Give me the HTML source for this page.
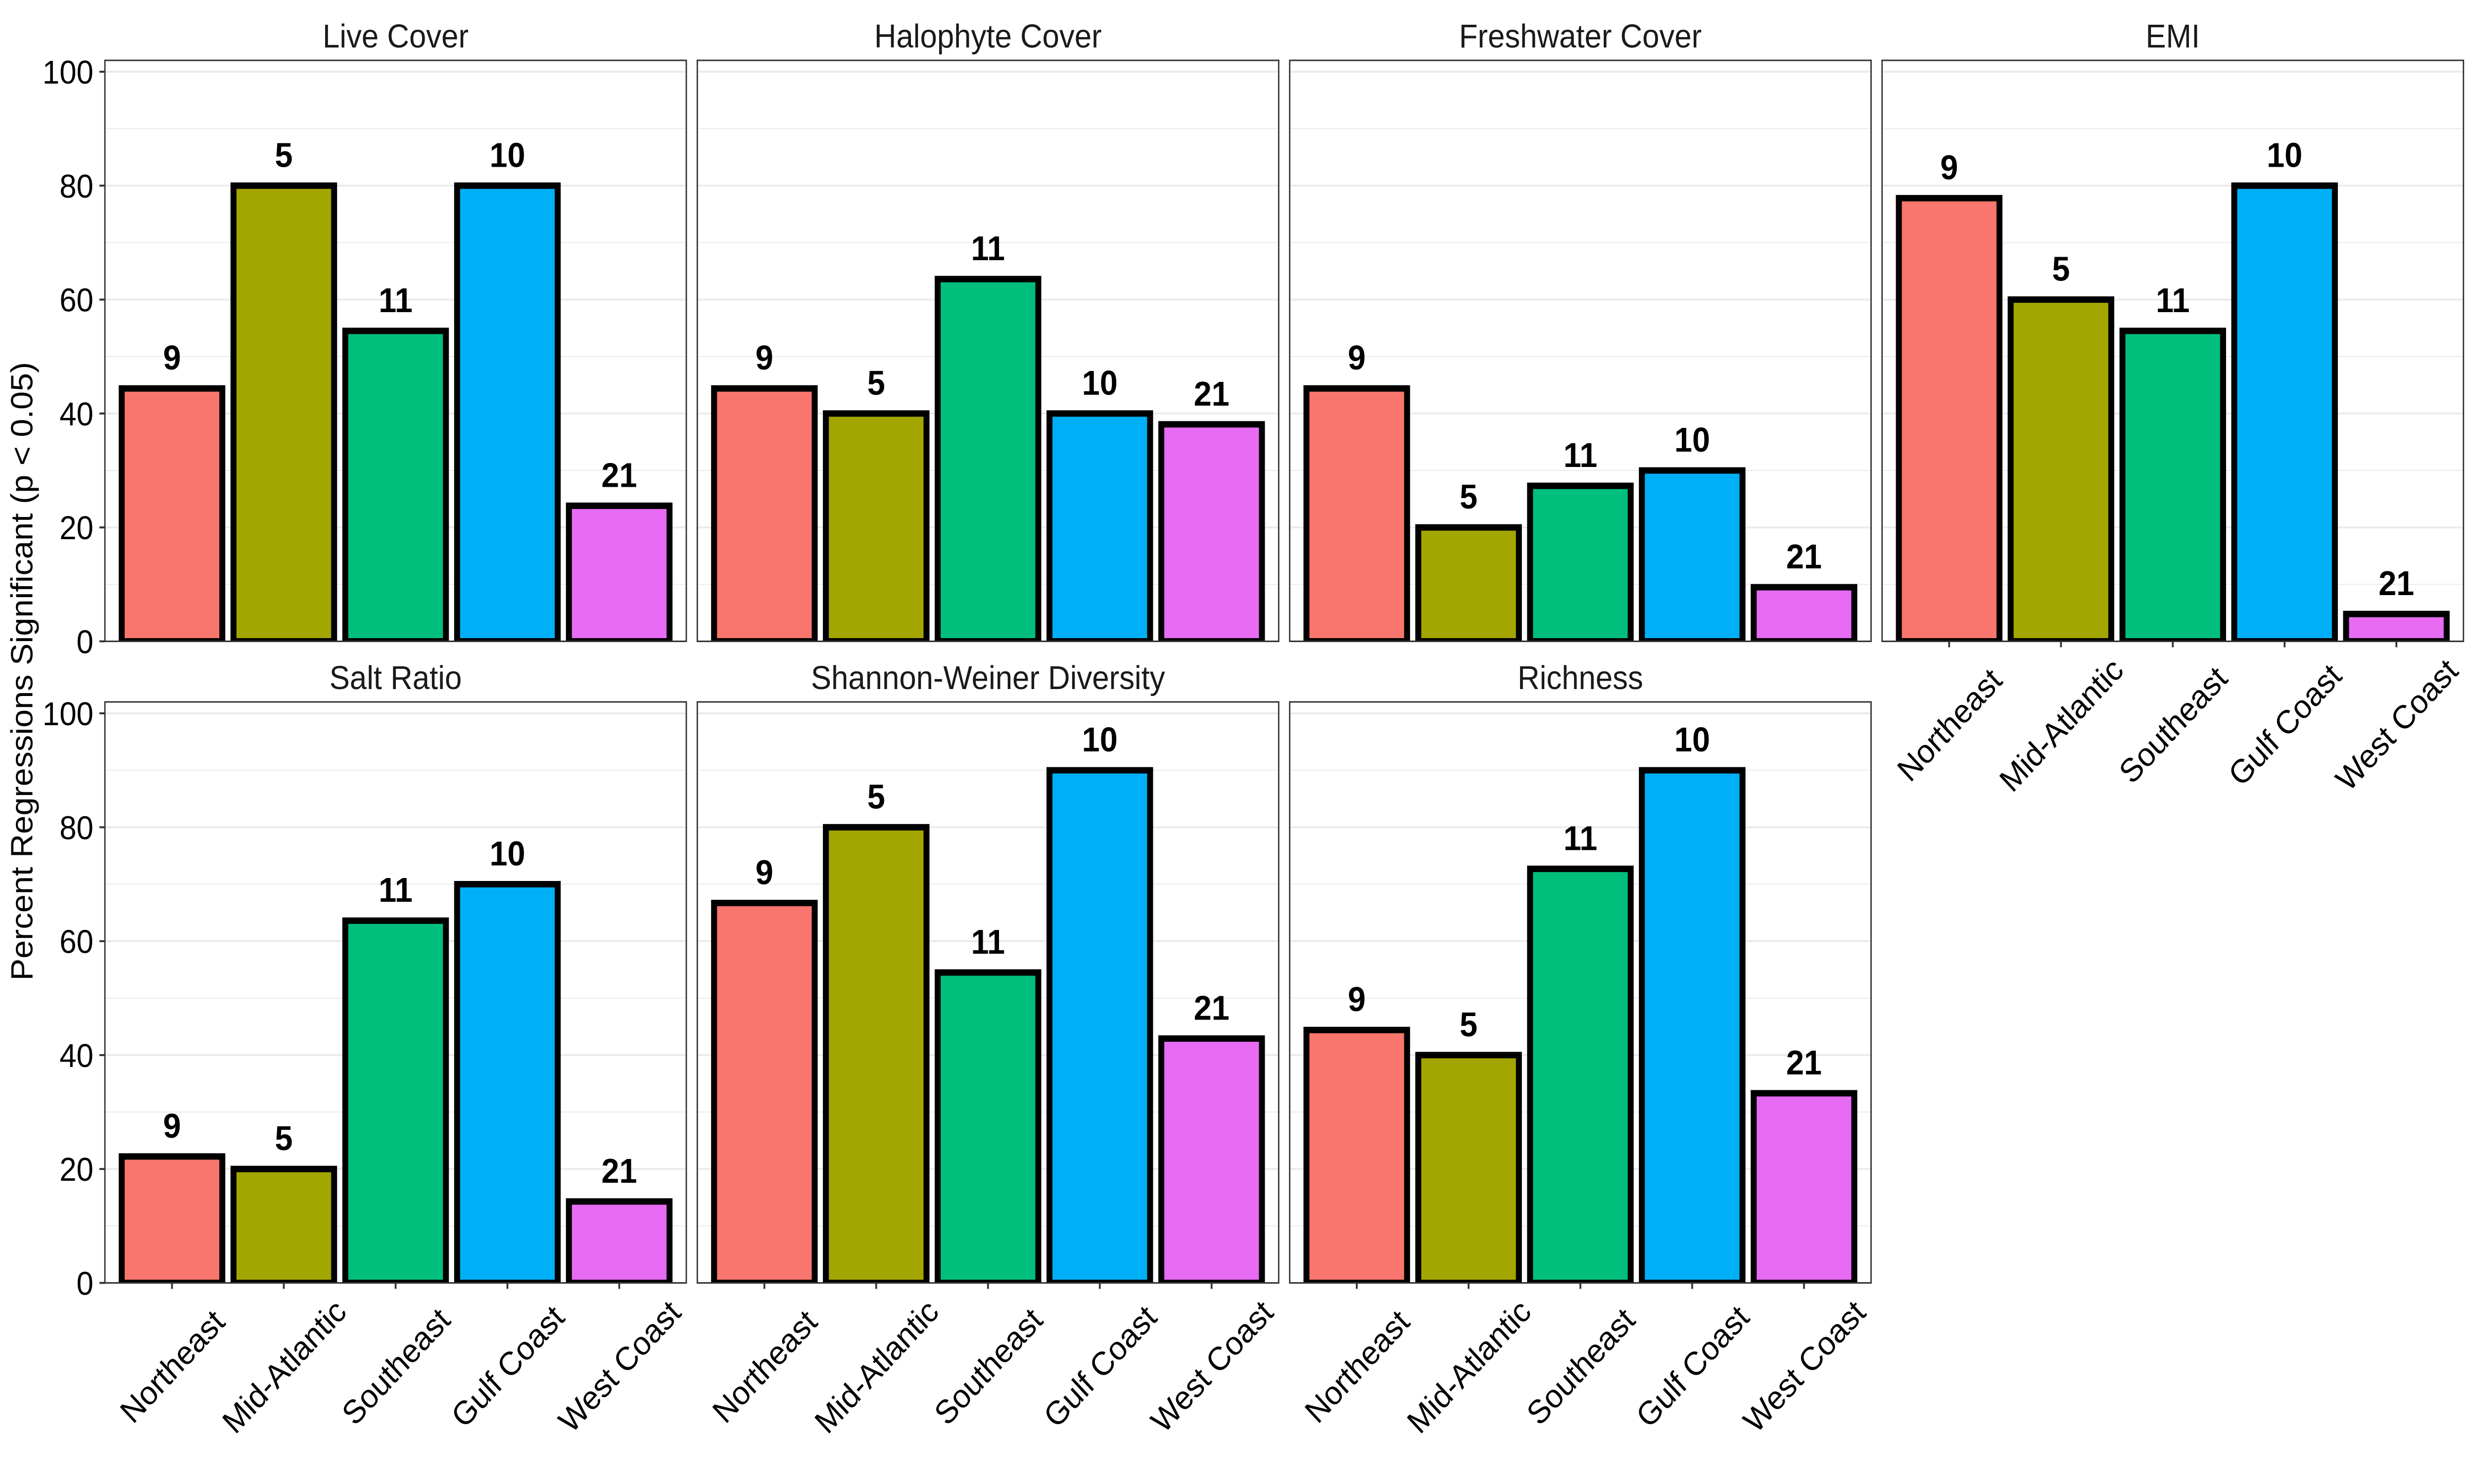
<!DOCTYPE html>
<html lang="en">
<head>
<meta charset="utf-8">
<title>Percent Regressions Significant by Region</title>
<style>
  html, body { margin: 0; padding: 0; background: #ffffff; width: 100%; height: 100%; overflow: hidden; }
  svg { display: block; width: 100vw; height: 100vh; font-family: "Liberation Sans", Arial, sans-serif; }
</style>
</head>
<body>
<svg id="chart" xmlns="http://www.w3.org/2000/svg" viewBox="0 0 5400 3000" preserveAspectRatio="none">
  <rect x="0" y="0" width="5400" height="3000" fill="#ffffff"/>
  <text transform="translate(71,1357) rotate(-90)" text-anchor="middle" font-size="66.67" fill="#000000">Percent Regressions Significant (p &lt; 0.05)</text>
  <g id="panels"></g>
</svg>
<script>
// ---- Data ----
const categories = ['Northeast', 'Mid-Atlantic', 'Southeast', 'Gulf Coast', 'West Coast'];
const sampleSizes = [9, 5, 11, 10, 21];
const panelTitles = ['Live Cover', 'Halophyte Cover', 'Freshwater Cover', 'EMI', 'Salt Ratio', 'Shannon-Weiner Diversity', 'Richness'];
const liveCover = [44.4, 80, 54.5, 80, 23.8];
const halophyteCover = [44.4, 40, 63.6, 40, 38.1];
const freshwaterCover = [44.4, 20, 27.3, 30, 9.5];
const emi = [77.8, 60, 54.5, 80, 4.8];
const saltRatio = [22.2, 20, 63.6, 70, 14.3];
const shannonWeiner = [66.7, 80, 54.5, 90, 42.9];
const richness = [44.4, 40, 72.7, 90, 33.3];
const panelValues = [liveCover, halophyteCover, freshwaterCover, emi, saltRatio, shannonWeiner, richness];
const majorTicks = [0, 20, 40, 60, 80, 100];
const minorTicks = [10, 30, 50, 70, 90];
const barColors = ['#F8766D', '#A3A500', '#00BF7D', '#00B0F6', '#E76BF3'];

// ---- Layout ----
const panelLeft0 = 229, panelStepX = 1293, panelW = 1269;
const panelTop0 = 122, panelStepY = 1297, panelH = 1174.5;
const yMax = 102, barWidthUnits = 0.9, xExpand = 0.6;
const NS = 'http://www.w3.org/2000/svg';
const root = document.getElementById('panels');

function make(parent, tag, attrs, text) {
  const el = document.createElementNS(NS, tag);
  for (const k in attrs) el.setAttribute(k, attrs[k]);
  if (text !== undefined) el.textContent = text;
  parent.appendChild(el);
  return el;
}
function xScale(index, left) {
  const unit = panelW / (categories.length - 1 + 2 * xExpand);
  return left + (index + xExpand) * unit;
}
function barWidth() {
  return barWidthUnits * panelW / (categories.length - 1 + 2 * xExpand);
}
function yScale(value, top) {
  return top + panelH - value / yMax * panelH;
}

panelTitles.forEach(function (title, i) {
  const col = i % 4, row = Math.floor(i / 4);
  const left = panelLeft0 + col * panelStepX;
  const top = panelTop0 + row * panelStepY;
  const values = panelValues[i];
  const slug = title.toLowerCase().replace(/[^a-z]+/g, '-');

  const g = make(root, 'g', {});
  
  

  const strip = make(g, 'text', { x: left + panelW / 2, y: top - 26, 'text-anchor': 'middle', 'font-size': 66.67, fill: '#1a1a1a' }, title);
  
  

  const clipId = 'clip-' + i;
  const defs = make(g, 'defs', {});
  const clip = make(defs, 'clipPath', { id: clipId });
  make(clip, 'rect', { x: left, y: top, width: panelW, height: panelH });

  minorTicks.forEach(function (t) {
    const line = make(g, 'line', { x1: left, x2: left + panelW, y1: yScale(t, top), y2: yScale(t, top), stroke: '#ebebeb', 'stroke-width': 2 });
    
    
  });
  majorTicks.forEach(function (t) {
    const line = make(g, 'line', { x1: left, x2: left + panelW, y1: yScale(t, top), y2: yScale(t, top), stroke: '#ebebeb', 'stroke-width': 4 });
    
    
  });

  const barGroup = make(g, 'g', { 'clip-path': 'url(#' + clipId + ')' });
  
  
  values.forEach(function (v, c) {
    const cx = xScale(c, left), w = barWidth();
    const yTop = yScale(v, top), yBase = yScale(0, top);
    const bar = make(barGroup, 'rect', { x: cx - w / 2, y: yTop, width: w, height: yBase - yTop, fill: barColors[c], stroke: '#000000', 'stroke-width': 13 });
    
    
  });

  values.forEach(function (v, c) {
    const label = make(g, 'text', { x: xScale(c, left), y: yScale(v, top) - 38, 'text-anchor': 'middle', 'font-size': 70, 'font-weight': 'bold', fill: '#000000' }, String(sampleSizes[c]));
    
    
  });

  const border = make(g, 'rect', { x: left, y: top, width: panelW, height: panelH, fill: 'none', stroke: '#333333', 'stroke-width': 3 });
  
  

  if (col === 0) {
    majorTicks.forEach(function (t) {
      const y = yScale(t, top);
      const tick = make(g, 'line', { x1: left - 12, x2: left, y1: y, y2: y, stroke: '#333333', 'stroke-width': 4 });
      
      
      const lab = make(g, 'text', { x: 204, y: y + 24, 'text-anchor': 'end', 'font-size': 66.67, fill: '#000000' }, String(t));
      
      
    });
  }

  if (i >= panelTitles.length - 4) {
    categories.forEach(function (name, c) {
      const x = xScale(c, left), yb = top + panelH;
      const tick = make(g, 'line', { x1: x, x2: x, y1: yb, y2: yb + 12, stroke: '#333333', 'stroke-width': 4 });
      
      
      const lab = make(g, 'text', { transform: 'translate(' + x + ',' + (yb + 168) + ') rotate(-45)', y: 24, 'text-anchor': 'middle', 'font-size': 66.67, fill: '#000000' }, name);
      
      
    });
  }
});
</script>
</body>
</html>
